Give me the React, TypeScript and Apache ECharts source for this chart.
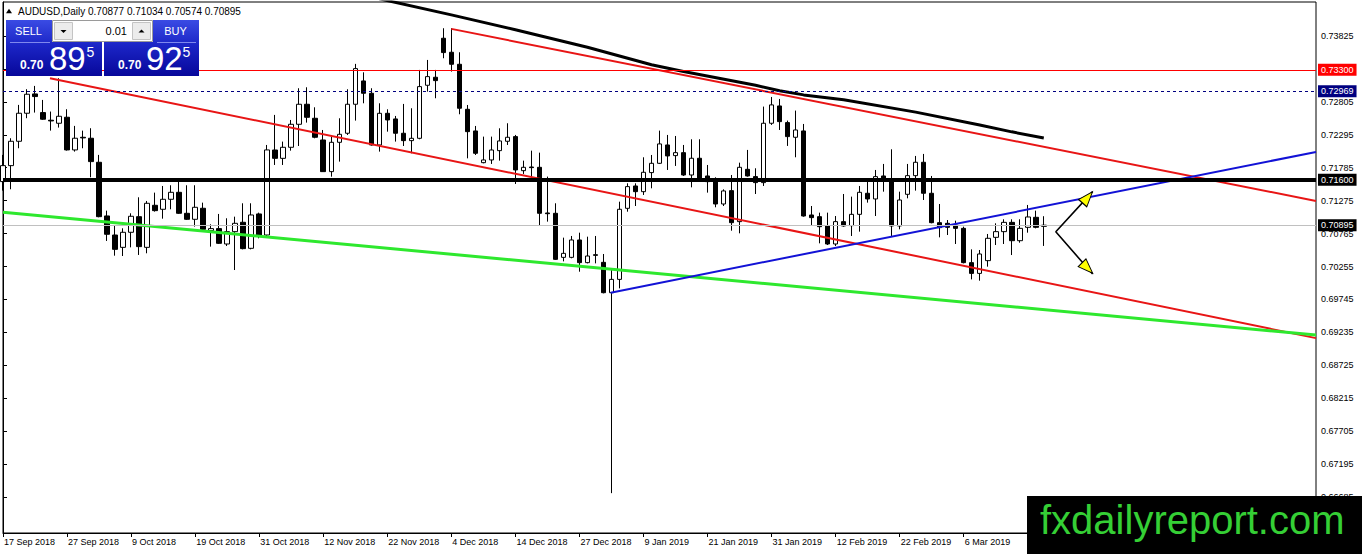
import React, { useEffect, useRef } from 'react';
import * as echarts from 'echarts';

const symbolName = 'AUDUSD';
const timeframe = 'Daily';

const dates = [
  '17 Sep 2018','18 Sep 2018','19 Sep 2018','20 Sep 2018','21 Sep 2018','24 Sep 2018','25 Sep 2018','26 Sep 2018','27 Sep 2018','28 Sep 2018',
  '1 Oct 2018','2 Oct 2018','3 Oct 2018','4 Oct 2018','5 Oct 2018','8 Oct 2018','9 Oct 2018','10 Oct 2018','11 Oct 2018','12 Oct 2018',
  '15 Oct 2018','16 Oct 2018','17 Oct 2018','18 Oct 2018','19 Oct 2018','22 Oct 2018','23 Oct 2018','24 Oct 2018','25 Oct 2018','26 Oct 2018',
  '29 Oct 2018','30 Oct 2018','31 Oct 2018',
  '1 Nov 2018','2 Nov 2018','5 Nov 2018','6 Nov 2018','7 Nov 2018','8 Nov 2018','9 Nov 2018','12 Nov 2018','13 Nov 2018','14 Nov 2018',
  '15 Nov 2018','16 Nov 2018','19 Nov 2018','20 Nov 2018','21 Nov 2018','22 Nov 2018','23 Nov 2018','26 Nov 2018','27 Nov 2018','28 Nov 2018',
  '29 Nov 2018','30 Nov 2018',
  '3 Dec 2018','4 Dec 2018','5 Dec 2018','6 Dec 2018','7 Dec 2018','10 Dec 2018','11 Dec 2018','12 Dec 2018','13 Dec 2018','14 Dec 2018',
  '17 Dec 2018','18 Dec 2018','19 Dec 2018','20 Dec 2018','21 Dec 2018','24 Dec 2018','26 Dec 2018','27 Dec 2018','28 Dec 2018','31 Dec 2018',
  '2 Jan 2019','3 Jan 2019','4 Jan 2019','7 Jan 2019','8 Jan 2019','9 Jan 2019','10 Jan 2019','11 Jan 2019','14 Jan 2019','15 Jan 2019',
  '16 Jan 2019','17 Jan 2019','18 Jan 2019','21 Jan 2019','22 Jan 2019','23 Jan 2019','24 Jan 2019','25 Jan 2019','28 Jan 2019','29 Jan 2019',
  '30 Jan 2019','31 Jan 2019',
  '1 Feb 2019','4 Feb 2019','5 Feb 2019','6 Feb 2019','7 Feb 2019','8 Feb 2019','11 Feb 2019','12 Feb 2019','13 Feb 2019','14 Feb 2019',
  '15 Feb 2019','18 Feb 2019','19 Feb 2019','20 Feb 2019','21 Feb 2019','22 Feb 2019','25 Feb 2019','26 Feb 2019','27 Feb 2019','28 Feb 2019',
  '1 Mar 2019','4 Mar 2019','5 Mar 2019','6 Mar 2019','7 Mar 2019','8 Mar 2019','11 Mar 2019','12 Mar 2019','13 Mar 2019','14 Mar 2019',
  '15 Mar 2019','18 Mar 2019','19 Mar 2019','20 Mar 2019'
];

const opens = [
  0.71570,0.71817,0.72194,0.72628,0.72927,0.72638,0.72520,0.72473,0.72566,0.72060,
  0.72256,0.72241,0.71869,0.71038,0.70743,0.70552,0.70785,0.71027,0.70552,0.71203,
  0.71141,0.71296,0.71404,0.71079,0.70986,0.71157,0.70811,0.70842,0.70604,0.70795,
  0.70940,0.70537,0.71069,0.70743,0.72059,0.71930,0.72101,0.72457,0.72767,0.72550,
  0.72214,0.71724,0.72178,0.72318,0.72767,0.73128,0.72937,0.72137,0.72627,0.72540,
  0.72318,0.72204,0.72240,0.73061,0.73185,0.73789,0.73572,0.73386,0.72689,0.72354,
  0.71863,0.71905,0.72049,0.72194,0.72266,0.71739,0.71796,0.71791,0.71084,0.71079,
  0.70397,0.70397,0.70666,0.70315,0.70438,0.70320,0.69850,0.70056,0.71156,0.71502,
  0.71414,0.71709,0.71853,0.72137,0.71972,0.72018,0.71672,0.71931,0.71657,0.71579,
  0.71223,0.71430,0.70950,0.71760,0.71647,0.71554,0.72473,0.72741,0.72483,0.72256,
  0.72354,0.71053,0.71027,0.70883,0.70604,0.70950,0.70888,0.71063,0.71389,0.71301,
  0.71657,0.71605,0.70883,0.71373,0.71662,0.71869,0.71389,0.70934,0.70924,0.70898,
  0.70846,0.70315,0.70149,0.70346,0.70707,0.70795,0.70939,0.70655,0.70862,0.71017,
  0.70877
];

const closes = [
  0.71817,0.72194,0.72628,0.72922,0.72886,0.72535,0.72509,0.72581,0.72060,0.72241,
  0.72246,0.71879,0.71027,0.70754,0.70521,0.70785,0.71033,0.70563,0.71234,0.71120,
  0.71296,0.71404,0.71079,0.70986,0.71172,0.70831,0.70842,0.70614,0.70795,0.70924,
  0.70532,0.71053,0.70743,0.72060,0.71930,0.72101,0.72457,0.72767,0.72565,0.72256,
  0.71724,0.72178,0.72302,0.72767,0.73319,0.72937,0.72137,0.72627,0.72524,0.72318,
  0.72204,0.72240,0.73040,0.73195,0.73133,0.73567,0.73386,0.72705,0.72343,0.72008,
  0.71905,0.72059,0.72199,0.72256,0.71750,0.71791,0.71786,0.71079,0.71073,0.70366,
  0.70459,0.70666,0.70315,0.70418,0.70428,0.69850,0.70056,0.71141,0.71492,0.71414,
  0.71714,0.71853,0.72153,0.71967,0.72018,0.71672,0.71931,0.71621,0.71569,0.71223,
  0.71425,0.70934,0.71791,0.71657,0.71554,0.72473,0.72757,0.72498,0.72266,0.72369,
  0.71037,0.71012,0.70872,0.70604,0.70950,0.70883,0.71063,0.71404,0.71301,0.71647,
  0.71605,0.70883,0.71285,0.71662,0.71869,0.71389,0.70934,0.70857,0.70862,0.70846,
  0.70315,0.70149,0.70449,0.70692,0.70795,0.70939,0.70655,0.70846,0.71022,0.70862,
  0.70895
];

const lows = [
  0.71430,0.71451,0.72086,0.72551,0.72638,0.72525,0.72359,0.72406,0.72050,0.72034,
  0.72086,0.71637,0.71017,0.70651,0.70423,0.70418,0.70552,0.70434,0.70460,0.71105,
  0.70996,0.71141,0.71069,0.70976,0.70873,0.70821,0.70563,0.70604,0.70573,0.70201,
  0.70521,0.70521,0.70692,0.70718,0.71827,0.71827,0.72049,0.72121,0.72483,0.72240,
  0.71719,0.71646,0.71879,0.72292,0.72514,0.72782,0.72127,0.72034,0.72343,0.72189,
  0.72121,0.72008,0.72225,0.72963,0.72860,0.73479,0.73273,0.72612,0.71930,0.71982,
  0.71853,0.71843,0.71894,0.72137,0.71533,0.71688,0.71647,0.70882,0.70950,0.70356,
  0.70335,0.70382,0.70175,0.70304,0.70304,0.69840,0.66747,0.69917,0.71104,0.71192,
  0.71363,0.71466,0.71843,0.71750,0.71812,0.71657,0.71481,0.71605,0.71399,0.71172,
  0.71192,0.70810,0.70769,0.71647,0.71378,0.71502,0.72447,0.72369,0.72122,0.71946,
  0.71027,0.70898,0.70614,0.70588,0.70573,0.70872,0.70728,0.70795,0.71244,0.71037,
  0.71414,0.70728,0.70831,0.71311,0.71430,0.71285,0.70924,0.70707,0.70743,0.70604,
  0.70304,0.70056,0.70036,0.70253,0.70588,0.70604,0.70433,0.70624,0.70779,0.70846,
  0.70574
];

const highs = [
  0.71983,0.72241,0.72757,0.73000,0.73051,0.72834,0.72654,0.73170,0.72690,0.72432,
  0.72359,0.72396,0.71983,0.71120,0.70888,0.70847,0.71079,0.71327,0.71270,0.71399,
  0.71502,0.71513,0.71570,0.71513,0.71513,0.71244,0.70909,0.71069,0.71002,0.71027,
  0.71234,0.71234,0.71089,0.72137,0.72602,0.72189,0.72524,0.73015,0.73030,0.72720,
  0.72369,0.72266,0.72550,0.72999,0.73392,0.73262,0.73015,0.72782,0.72689,0.72586,
  0.72772,0.72705,0.73299,0.73453,0.73299,0.73944,0.73944,0.73572,0.72756,0.72431,
  0.72266,0.72266,0.72395,0.72473,0.72292,0.71894,0.72049,0.72018,0.71647,0.71234,
  0.70702,0.70728,0.70779,0.70717,0.70728,0.70449,0.70201,0.71259,0.71543,0.71543,
  0.71946,0.71982,0.72359,0.72292,0.72276,0.72137,0.72225,0.72225,0.71827,0.71636,
  0.71450,0.71672,0.71863,0.72060,0.71776,0.72731,0.72880,0.72849,0.72514,0.72669,
  0.72462,0.71192,0.71089,0.71089,0.71037,0.71378,0.71337,0.71502,0.71605,0.71750,
  0.71843,0.72070,0.71414,0.71843,0.71967,0.71998,0.71657,0.71223,0.70975,0.70965,
  0.70872,0.70521,0.70511,0.70759,0.70924,0.70986,0.70986,0.70986,0.71208,0.71120,
  0.71034
];

// empty bar slots to the right of the last candle
const futureSlots = 34;
// date labels from this bar on sit under the watermark
const firstHiddenLabel = 128;

// y-axis tick labels
const yTicks = [
  0.66685, 0.67195, 0.67705, 0.68215, 0.68725, 0.69235, 0.69745, 0.70255,
  0.70765, 0.71275, 0.71785, 0.72295, 0.72805, 0.73315, 0.73825
];

// drawn objects: [bar index, price]
const movingAverage = [
  [47, 0.7440], [56, 0.74151], [64, 0.73920], [73, 0.73650], [81, 0.73378], [85, 0.73275],
  [94, 0.73060], [97, 0.72975], [100, 0.72912], [105, 0.72838], [114, 0.72645], [122, 0.72447],
  [126, 0.72340], [130, 0.72245]
];
const redUpperTrend = [[56, 0.73934], [164, 0.7127]];
const redLowerTrend = [[5.87, 0.7317], [164, 0.69147]];
const greenTrend = [[0, 0.71094], [164, 0.69194]];
const blueTrend = [[75.9, 0.6985], [164, 0.72029]];
const arrowPath = [[136.1, 0.71414], [131.5, 0.70794], [136.1, 0.70139]];
const arrowHeads = [[135.47, 0.71324], [135.45, 0.70232]];
const arrowHeadRotations = [-41, -135];

// horizontal levels
const levelRed = 0.733;
const levelNavy = 0.72969;
const levelBlack = 0.716;
const askPrice = 0.70925;

const AXIS_FONT = 'Liberation Sans';

function splitPrice(p: number) {
  const s = p.toFixed(5); // 0.70895
  return { big: s.slice(0, 4), mid: s.slice(4, 6), small: s.slice(6) };
}

function buildOption() {
  const categories = [...dates, ...Array(futureSlots).fill('')];
  const lastIdx = dates.length - 1;
  const bid = closes[lastIdx];
  const candleData = dates.map((_, i) => [opens[i], closes[i], lows[i], highs[i]]);
  const sp = splitPrice(bid);
  const bp = splitPrice(askPrice);
  const header = `${symbolName},${timeframe} ${opens[lastIdx].toFixed(5)} ${highs[lastIdx].toFixed(5)} ${lows[lastIdx].toFixed(5)} ${closes[lastIdx].toFixed(5)}`;

  const blueGrad = {
    type: 'linear', x: 0, y: 0, x2: 0, y2: 1,
    colorStops: [
      { offset: 0, color: '#3a4be4' },
      { offset: 0.45, color: '#1b25c6' },
      { offset: 1, color: '#07079a' }
    ]
  };

  const txt = (text: string, x: number, y: number, size: number, opts: any = {}) => ({
    type: 'text', x, y, z: 101,
    style: {
      text, fill: opts.fill || '#fff', fontSize: size, fontFamily: opts.family || 'Liberation Sans',
      fontWeight: opts.weight || 'normal', align: opts.align || 'left', verticalAlign: 'middle'
    }
  });

  const graphic: any[] = [
    // header
    { type: 'polygon', z: 100, shape: { points: [[6, 13.3], [9, 8.7], [12, 13.3]] }, style: { fill: '#000' } },
    txt(header, 18, 11, 10, { fill: '#000' }),
    // sell button
    { type: 'polygon', z: 100, shape: { points: [[6, 20], [52, 20], [52, 42], [102, 42], [102, 76], [6, 76]] }, style: { fill: blueGrad } },
    // buy button
    { type: 'polygon', z: 100, shape: { points: [[153, 20], [199, 20], [199, 76], [104, 76], [104, 42], [153, 42]] }, style: { fill: blueGrad } },
    { type: 'line', z: 101, shape: { x1: 10, y1: 42.5, x2: 50, y2: 42.5 }, style: { stroke: '#7f88ee', lineWidth: 1 } },
    { type: 'line', z: 101, shape: { x1: 157, y1: 42.5, x2: 196, y2: 42.5 }, style: { stroke: '#7f88ee', lineWidth: 1 } },
    txt('SELL', 28.5, 31, 11, { align: 'center' }),
    txt('BUY', 175.5, 31, 11, { align: 'center' }),
    // lot box
    { type: 'rect', z: 100, shape: { x: 52.5, y: 20.5, width: 100, height: 21 }, style: { fill: '#fff', stroke: '#9a9a9a', lineWidth: 1 } },
    { type: 'rect', z: 100, shape: { x: 54.5, y: 22.5, width: 18, height: 17 }, style: { fill: '#ececec', stroke: '#c4c4c4', lineWidth: 1 } },
    { type: 'rect', z: 100, shape: { x: 132.5, y: 22.5, width: 18, height: 17 }, style: { fill: '#ececec', stroke: '#c4c4c4', lineWidth: 1 } },
    { type: 'polygon', z: 101, shape: { points: [[60.5, 30], [66.5, 30], [63.5, 33]] }, style: { fill: '#000' } },
    { type: 'polygon', z: 101, shape: { points: [[138.5, 32.5], [144.5, 32.5], [141.5, 29.5]] }, style: { fill: '#000' } },
    txt('0.01', 127, 31, 11, { fill: '#000', align: 'right' }),
    // prices
    txt(sp.big, 20, 65, 12, { weight: 'bold' }),
    txt(sp.mid, 49, 58, 33),
    txt(sp.small, 86.5, 52, 14),
    txt(bp.big, 118, 65, 12, { weight: 'bold' }),
    txt(bp.mid, 146, 58, 33),
    txt(bp.small, 182.5, 52, 14),
    // watermark
    { type: 'rect', z: 100, shape: { x: 1027, y: 496, width: 335, height: 58 }, style: { fill: '#000' } },
    txt('fxdailyreport.com', 1040, 520, 40, { fill: '#35cf35' })
  ];

  const trend = (data: number[][], color: string, width: number, z = 4) => ({
    type: 'line', xAxisIndex: 1, yAxisIndex: 0, data, symbol: 'none', silent: true, z,
    lineStyle: { color, width }, clip: true
  });

  const mlLabel = (bg: string) => ({
    show: true, position: 'end', distance: 2, color: '#fff', backgroundColor: bg,
    fontSize: 9, fontFamily: AXIS_FONT, padding: [2, 3, 1, 3],
    formatter: (p: any) => Number(p.value).toFixed(5)
  });

  return {
    animation: false,
    backgroundColor: '#ffffff',
    grid: { left: 3, right: 46, top: 2, bottom: 21, show: true, borderColor: '#000', borderWidth: 1, backgroundColor: 'transparent', containLabel: false },
    xAxis: [
      {
        type: 'category', data: categories, boundaryGap: false,
        axisLine: { show: true, lineStyle: { color: '#000', width: 1 } },
        axisTick: { show: true, interval: 7, length: 4, lineStyle: { color: '#000' } },
        axisLabel: {
          interval: 7, align: 'left', margin: 4, color: '#000', fontSize: 9, fontFamily: AXIS_FONT, padding: [0, 0, 0, 1],
          formatter: (v: string, i: number) => (i < firstHiddenLabel ? v : '')
        },
        splitLine: { show: false }
      },
      { type: 'value', min: 0, max: 164, show: false, splitLine: { show: false } }
    ],
    yAxis: [
      {
        type: 'value', position: 'right', min: 0.6613, max: 0.7435,
        axisLine: { show: true, lineStyle: { color: '#000', width: 1 } },
        axisTick: { show: true, length: 4, customValues: yTicks, lineStyle: { color: '#000' } },
        axisLabel: { customValues: yTicks, margin: 5, color: '#000', fontSize: 9, fontFamily: AXIS_FONT, formatter: (v: number) => v.toFixed(5) },
        splitLine: { show: false }
      }
    ],
    series: [
      {
        type: 'candlestick', xAxisIndex: 0, yAxisIndex: 0, data: candleData, barWidth: 5, z: 2, silent: true,
        itemStyle: { color: '#ffffff', color0: '#000000', borderColor: '#000000', borderColor0: '#000000', borderWidth: 1 }
      },
      trend(movingAverage, '#000000', 3),
      trend(redUpperTrend, '#e81515', 2),
      trend(redLowerTrend, '#e81515', 2),
      {
        ...trend(greenTrend, '#2ee82e', 3),
        markLine: {
          silent: true, symbol: ['none', 'none'], animation: false, precision: 5,
          data: [
            { yAxis: levelRed, lineStyle: { color: '#ff0000', width: 1, type: 'solid' }, label: mlLabel('#ff0000') },
            { yAxis: levelNavy, lineStyle: { color: '#000080', width: 1, type: [3, 3] }, label: mlLabel('#000080') },
            { yAxis: levelBlack, lineStyle: { color: '#000000', width: 4, type: 'solid' }, label: mlLabel('#000000') },
            { yAxis: closes[closes.length - 1], lineStyle: { color: '#c0c0c0', width: 1, type: 'solid' }, label: mlLabel('#000000') }
          ]
        }
      },
      trend(blueTrend, '#1212d6', 2),
      trend(arrowPath, '#000000', 1.6, 5),
      {
        type: 'scatter', xAxisIndex: 1, yAxisIndex: 0, z: 6, silent: true,
        symbol: 'triangle', symbolSize: [11, 15],
        data: arrowHeads.map((v, i) => ({ value: v, symbolRotate: arrowHeadRotations[i] })),
        itemStyle: { color: '#ffff00', borderColor: '#000000', borderWidth: 1, opacity: 1 }
      }
    ],
    graphic
  };
}

export default function App() {
  const ref = useRef<HTMLDivElement>(null);
  useEffect(() => {
    if (!ref.current) return;
    const chart = echarts.init(ref.current, null, { renderer: 'svg' });
    chart.setOption(buildOption() as any);
    return () => chart.dispose();
  }, []);
  return (
    <div
      ref={ref}
      style={{ position: 'fixed', left: 0, top: 0, width: 1362, height: 554, background: '#fff' }}
    />
  );
}
